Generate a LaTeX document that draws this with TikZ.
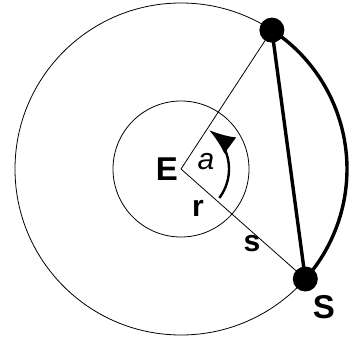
\documentclass[tikz,border=0pt]{standalone}
\usepackage{fontspec}
\setmainfont{Liberation Sans}
\usetikzlibrary{arrows.meta}

\begin{document}
\begin{tikzpicture}[
  x=1pt, y=1pt,
  fine/.style={draw, line width=0.8pt},
  heavy/.style={draw, line width=3.4pt},
  dot/.style={circle, fill=black, inner sep=0pt, minimum size=25pt},
  lbl/.style={font=\fontsize{33}{35}\selectfont\bfseries, inner sep=0pt},
  small lbl/.style={font=\fontsize{30}{32}\selectfont\bfseries, inner sep=0pt},
  angarrow/.style={-{Latex[length=26pt,width=20pt]}, line width=2.4pt}
]
\useasboundingbox (-181,-168) rectangle (169,169);

\coordinate (E) at (0,0);
\node[dot] (top) at (56.8:166) {};
\node[dot] (S) at (-41.5:166) {};

\draw[fine] (E) circle (166);
\draw[fine] (E) circle (68);
\draw[fine] (E) -- (top.center);
\draw[fine] (E) -- (S.center);

\draw[heavy] (top.center) -- (S.center);
\draw[heavy] (top.center) arc[start angle=56.8, end angle=-41.5, radius=166];

\coordinate (a0) at (-37:48);
\draw[angarrow] (a0) arc[start angle=-37, end angle=54, radius=48];

\node[lbl] (lE) at (-14,0) {E};
\node[small lbl, font=\fontsize{30}{32}\selectfont\itshape] (la) at (25,7) {a};
\node[small lbl] (lr) at (17,-39) {r};
\node[small lbl] (ls) at (71,-75) {s};
\node[lbl] (lS) at (143,-138) {S};
\end{tikzpicture}
\end{document}
